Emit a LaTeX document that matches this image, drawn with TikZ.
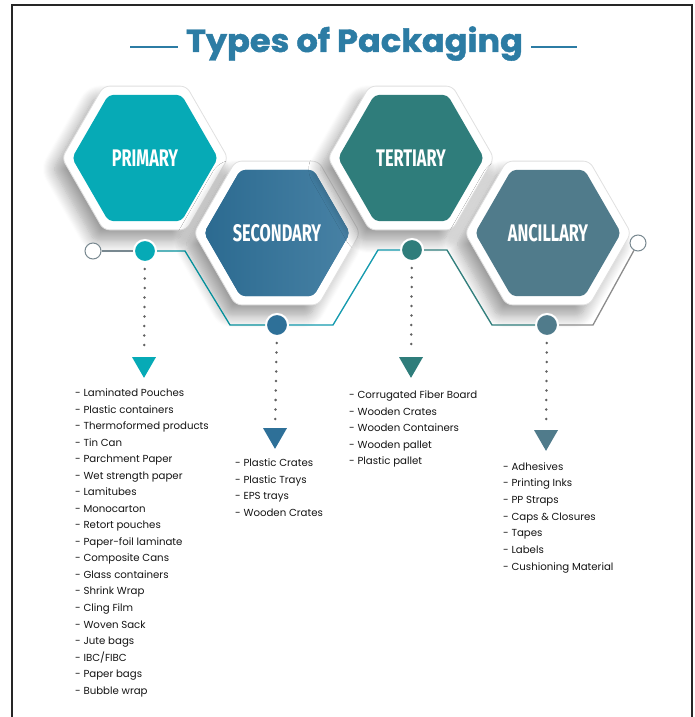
\documentclass[tikz,border=0pt]{standalone}
\usepackage{fontspec}
\setmainfont{Poppins}
\newfontfamily\hexfont{Fira Sans}[FakeStretch=0.68]
\newfontfamily\titlefont{Poppins}[FakeStretch=1.05, FakeBold=1.3]
\usetikzlibrary{shapes.geometric,shadows.blur}

\definecolor{primC}{RGB}{6,170,182}
\definecolor{secC}{RGB}{46,112,152}
\definecolor{terC}{RGB}{47,125,123}
\definecolor{ancC}{RGB}{80,123,139}
\definecolor{titleC}{RGB}{44,124,164}
\definecolor{ringC}{RGB}{120,136,144}

\begin{document}
\begin{tikzpicture}[x=1pt,y=-1pt,
  hexouter/.style={regular polygon, regular polygon sides=6, minimum size=166pt,
    inner sep=0pt, fill=white, draw=black!12, line width=0.8pt, rounded corners=6pt,
    blur shadow={shadow xshift=-9pt, shadow yshift=-11pt, shadow blur radius=12pt,
      shadow blur steps=12, shadow opacity=38}},
  hexinner/.style={regular polygon, regular polygon sides=6, minimum size=146pt,
    inner sep=0pt, fill=#1, rounded corners=5pt, text=white,
    font=\hexfont\bfseries\fontsize{24}{24}\selectfont},
  dot/.style={circle, minimum size=22pt, inner sep=0pt, fill=#1, draw=white, line width=2pt},
  ring/.style={circle, minimum size=16pt, inner sep=0pt, fill=white, draw=ringC, line width=1pt},
  tri/.style={regular polygon, regular polygon sides=3, shape border rotate=180,
    minimum size=27.7pt, inner sep=0pt, fill=#1},
  link/.style={line width=1.3pt, draw=#1},
  dotline/.style={draw=black!62, line width=2.8pt, line cap=round,
    dash pattern=on 0pt off 9.5pt, shorten >=4pt, shorten <=6pt},
  item/.style={anchor=west, inner sep=0pt, text height=7pt, text depth=2pt,
    font=\fontsize{10.2}{12}\selectfont, text=black!92}
]
\useasboundingbox (0,0) rectangle (695,717);

% frame
\draw[line width=1.8pt, black!85] (12,717) -- (12,5) -- (692,5) -- (692,717);

% title with side rules
\node[anchor=base, text=titleC, font=\titlefont\bfseries\fontsize{32}{32}\selectfont, inner sep=0pt]
  (title) at (354.5,52) {Types of Packaging};
\draw[titleC, line width=1.6pt] (130,47) -- (178,47);
\draw[titleC, line width=1.6pt] (531,47) -- (577,47);

% hexagons
\node[hexouter] (h1o) at (145,158) {};
\node[hexinner=primC] (h1) at (145,158) {PRIMARY};
\node[hexouter] (h2o) at (277,233) {};
\node[hexinner=secC, left color=secC!95!black, right color=secC!88!white] (h2) at (277,233) {SECONDARY};
\node[hexouter] (h3o) at (411,158) {};
\node[hexinner=terC] (h3) at (411,158) {TERTIARY};
\node[hexouter] (h4o) at (548,233) {};
\node[hexinner=ancC] (h4) at (548,233) {ANCILLARY};

% timeline markers
\node[ring] (e1) at (93,251) {};
\node[dot=primC] (d1) at (145,251) {};
\node[dot=secC] (d2) at (277,325) {};
\node[dot=terC] (d3) at (412,250) {};
\node[dot=ancC] (d4) at (547,325) {};
\node[ring] (e2) at (638,243) {};

\coordinate (k1) at (185,251);
\coordinate (k2) at (230,325);
\coordinate (k3) at (333,325);
\coordinate (k4) at (378,250);
\coordinate (k5) at (447,250);
\coordinate (k6) at (492,325);
\coordinate (k7) at (593,325);

\draw[link=ringC] (e1) -- (d1);
\draw[link=primC!85!black] (d1) -- (k1) -- (k2) -- (d2);
\draw[link=primC!70!secC] (d2) -- (k3) -- (k4) -- (d3);
\draw[link=terC] (d3) -- (k5) -- (k6) -- (d4);
\draw[link=black!45] (d4) -- (k7) -- (e2);

% arrow heads
\node[tri=primC] (t1) at (144,364) {};
\node[tri=secC] (t2) at (275,435) {};
\node[tri=terC] (t3) at (411,364) {};
\node[tri=ancC] (t4) at (546,437) {};

\draw[dotline] (d1) -- (t1);
\draw[dotline] (d2) -- (t2);
\draw[dotline] (d3) -- (t3);
\draw[dotline] (d4) -- (t4);

% lists
\foreach \t [count=\i from 0] in {Laminated Pouches, Plastic containers,
  Thermoformed products, Tin Can, Parchment Paper, Wet strength paper,
  Lamitubes, Monocarton, Retort pouches, Paper-foil laminate, Composite Cans,
  Glass containers, Shrink Wrap, Cling Film, Woven Sack, Jute bags, IBC/FIBC,
  Paper bags, Bubble wrap}
  \node[item] (pl\i) at (75,394+16.54*\i) {- \t};

\foreach \t [count=\i from 0] in {Plastic Crates, Plastic Trays, EPS trays, Wooden Crates}
  \node[item] (sl\i) at (235,464+16.67*\i) {- \t};

\foreach \t [count=\i from 0] in {Corrugated Fiber Board, Wooden Crates,
  Wooden Containers, Wooden pallet, Plastic pallet}
  \node[item] (tl\i) at (349,396+16.5*\i) {- \t};

\foreach \t [count=\i from 0] in {Adhesives, Printing Inks, PP Straps,
  Caps \& Closures, Tapes, Labels, Cushioning Material}
  \node[item] (al\i) at (503,467.7+16.67*\i) {- \t};
\end{tikzpicture}
\end{document}
